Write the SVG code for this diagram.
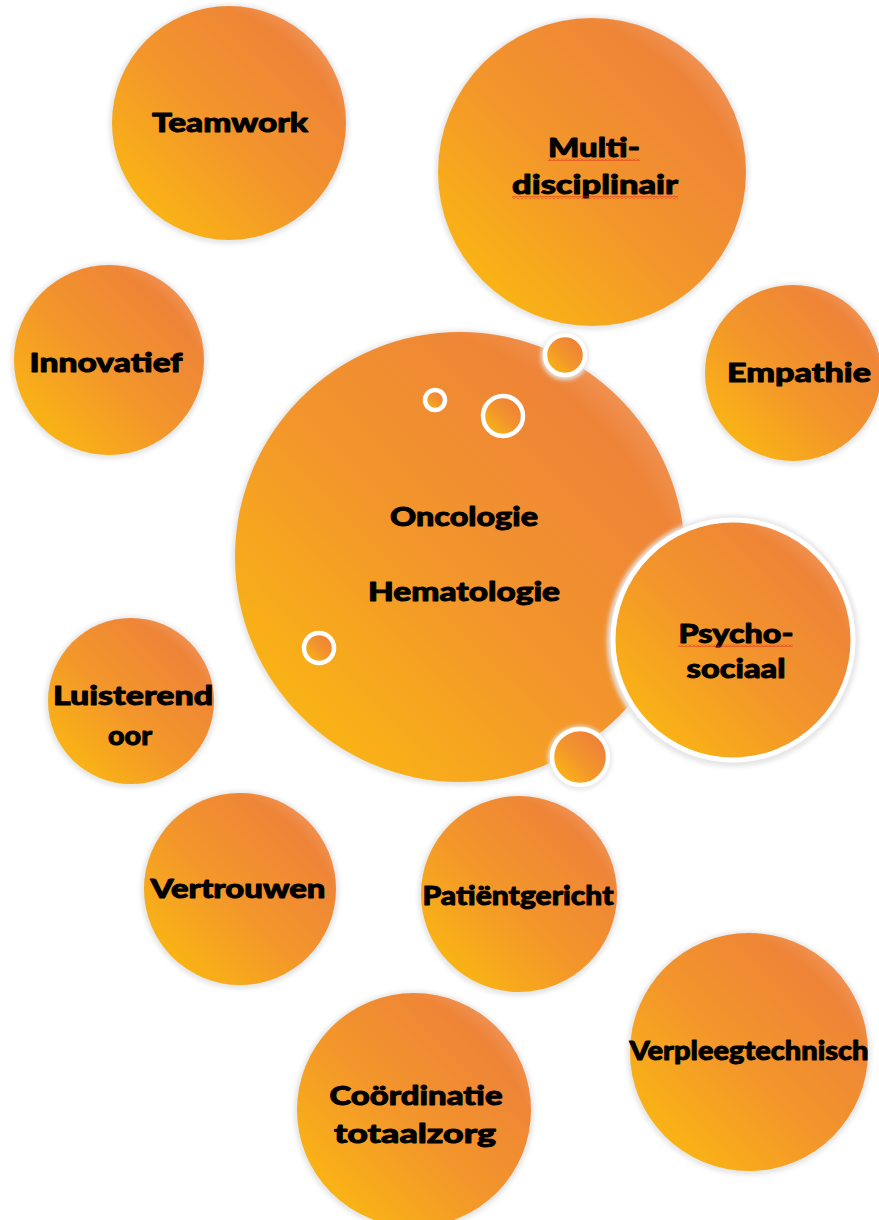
<svg xmlns="http://www.w3.org/2000/svg" width="879" height="1220" viewBox="0 0 879 1220">
<defs>
<linearGradient id="og" x1="0.1" y1="0.9" x2="0.9" y2="0.1">
<stop offset="0" stop-color="#FAB712"/>
<stop offset="0.45" stop-color="#F3962B"/>
<stop offset="1" stop-color="#EC7E3B"/>
</linearGradient>
<radialGradient id="hl" cx="0.25" cy="0.75" r="0.95">
<stop offset="0.82" stop-color="#F6B080" stop-opacity="0"/>
<stop offset="1" stop-color="#F6B888" stop-opacity="0.75"/>
</radialGradient>
<filter id="sh" x="-10%" y="-10%" width="120%" height="120%">
<feGaussianBlur stdDeviation="2"/>
</filter>
<pattern id="squig" width="4" height="3" patternUnits="userSpaceOnUse">
<path d="M0,2.5 L2,0.5 L4,2.5" fill="none" stroke="#E0201A" stroke-width="0.9"/>
</pattern>
</defs>
<style>
.sh{fill:#E6E6E6;filter:url(#sh)}
.b{fill:url(#og)}
.h{fill:url(#hl)}
.w{fill:url(#og);stroke:#FFFFFF;stroke-width:4.5}
.t{font-family:"Lato","Liberation Sans",sans-serif;font-weight:900;fill:#000000;stroke:#000000;stroke-width:0.9;stroke-linejoin:round;text-anchor:middle;font-size:26px}
</style>
<rect width="879" height="1220" fill="#FFFFFF"/>

<g id="teamwork">
<circle class="sh" cx="229" cy="124" r="120"/>
<circle class="b" cx="229" cy="123" r="117"/>
<circle class="h" cx="229" cy="123" r="117"/>
<text class="t" x="230" y="132" textLength="156" lengthAdjust="spacingAndGlyphs">Teamwork</text>
</g>

<g id="multidisciplinair">
<circle class="sh" cx="592" cy="173" r="157"/>
<circle class="b" cx="592" cy="172" r="154"/>
<circle class="h" cx="592" cy="172" r="154"/>
<text class="t" x="594" y="157" textLength="92" lengthAdjust="spacingAndGlyphs">Multi-</text>
<text class="t" x="595" y="194" textLength="166" lengthAdjust="spacingAndGlyphs">disciplinair</text>
<rect x="548" y="158" width="92" height="3" fill="url(#squig)"/>
<rect x="512" y="196" width="166" height="3" fill="url(#squig)"/>
</g>

<g id="innovatief">
<circle class="sh" cx="109" cy="361" r="98"/>
<circle class="b" cx="109" cy="360" r="95"/>
<circle class="h" cx="109" cy="360" r="95"/>
<text class="t" x="106" y="372" textLength="153" lengthAdjust="spacingAndGlyphs">Innovatief</text>
</g>

<g id="empathie">
<circle class="sh" cx="793" cy="374" r="91"/>
<circle class="b" cx="793" cy="373" r="88"/>
<circle class="h" cx="793" cy="373" r="88"/>
<text class="t" x="799" y="382" textLength="144" lengthAdjust="spacingAndGlyphs">Empathie</text>
</g>

<g id="oncologie-hematologie">
<circle class="sh" cx="460" cy="558" r="228"/>
<circle class="b" cx="460" cy="557" r="225"/>
<circle class="h" cx="460" cy="557" r="225"/>
<circle class="w" cx="435" cy="400" r="10"/>
<circle class="w" cx="503" cy="416" r="20"/>
<circle class="w" cx="319" cy="648" r="15"/>
<text class="t" x="464" y="526" textLength="148" lengthAdjust="spacingAndGlyphs">Oncologie</text>
<text class="t" x="464" y="601" textLength="192" lengthAdjust="spacingAndGlyphs">Hematologie</text>
</g>

<g id="bubble-top">
<circle class="sh" cx="565" cy="356" r="24"/>
<circle class="w" cx="565" cy="355" r="20"/>
</g>

<g id="psychosociaal">
<circle class="sh" cx="733" cy="641" r="126"/>
<circle class="b" cx="733" cy="640" r="120" stroke="#FFFFFF" stroke-width="5"/>
<circle class="h" cx="733" cy="640" r="118"/>
<text class="t" x="736" y="643" textLength="115" lengthAdjust="spacingAndGlyphs">Psycho-</text>
<text class="t" x="736" y="678" textLength="99" lengthAdjust="spacingAndGlyphs">sociaal</text>
<rect x="678" y="644" width="115" height="3" fill="url(#squig)"/>
</g>

<g id="bubble-bottom">
<circle class="sh" cx="580" cy="758" r="32"/>
<circle class="w" cx="580" cy="757" r="28"/>
</g>

<g id="luisterend-oor">
<circle class="sh" cx="131" cy="702" r="86"/>
<circle class="b" cx="131" cy="701" r="83"/>
<circle class="h" cx="131" cy="701" r="83"/>
<text class="t" x="133" y="705" textLength="160" lengthAdjust="spacingAndGlyphs">Luisterend</text>
<text class="t" x="130" y="745" textLength="44" lengthAdjust="spacingAndGlyphs">oor</text>
</g>

<g id="vertrouwen">
<circle class="sh" cx="240" cy="890" r="99"/>
<circle class="b" cx="240" cy="889" r="96"/>
<circle class="h" cx="240" cy="889" r="96"/>
<text class="t" x="238" y="898" textLength="175" lengthAdjust="spacingAndGlyphs">Vertrouwen</text>
</g>

<g id="patientgericht">
<circle class="sh" cx="519" cy="895" r="101"/>
<circle class="b" cx="519" cy="894" r="98"/>
<circle class="h" cx="519" cy="894" r="98"/>
<text class="t" x="518" y="905" textLength="191" lengthAdjust="spacingAndGlyphs">Patiëntgericht</text>
</g>

<g id="verpleegtechnisch">
<circle class="sh" cx="749" cy="1053" r="122"/>
<circle class="b" cx="749" cy="1052" r="119"/>
<circle class="h" cx="749" cy="1052" r="119"/>
<text class="t" x="749" y="1060" textLength="239" lengthAdjust="spacingAndGlyphs">Verpleegtechnisch</text>
</g>

<g id="coordinatie-totaalzorg">
<circle class="sh" cx="414" cy="1111" r="120"/>
<circle class="b" cx="414" cy="1110" r="117"/>
<circle class="h" cx="414" cy="1110" r="117"/>
<text class="t" x="416" y="1105" textLength="173" lengthAdjust="spacingAndGlyphs">Coördinatie</text>
<text class="t" x="415" y="1143" textLength="162" lengthAdjust="spacingAndGlyphs">totaalzorg</text>
</g>

<g id="connectors"></g>
</svg>
